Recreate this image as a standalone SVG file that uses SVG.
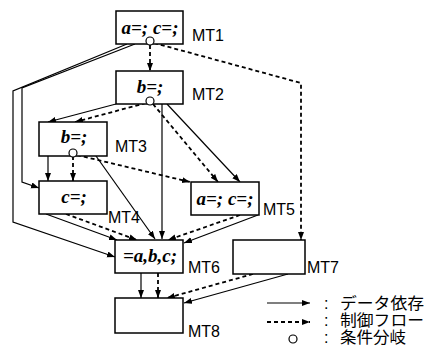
<svg xmlns="http://www.w3.org/2000/svg" width="427" height="347" viewBox="0 0 427 347">
<style>
.box{fill:#fff;stroke:#000;stroke-width:1.5}
.code{font-family:"Liberation Serif",serif;font-style:italic;font-weight:bold;font-size:19px;text-anchor:middle}
.lbl{font-family:"Liberation Sans",Arial,sans-serif;font-size:16px}
.leg{font-family:"Liberation Sans","Noto Sans CJK JP",sans-serif;font-size:16px}
.d{fill:none;stroke:#000;stroke-width:1.2;marker-end:url(#ah)}
.c{fill:none;stroke:#000;stroke-width:1.8;stroke-dasharray:4 3;marker-end:url(#ah)}
.cond{fill:#fff;stroke:#000;stroke-width:1.2}
</style>
<defs>
<marker id="ah" markerUnits="userSpaceOnUse" markerWidth="9" markerHeight="7" refX="8" refY="3" orient="auto">
<path d="M0,0 L8,3 L0,6 z" fill="#000"/>
</marker>
</defs>
<g id="connectors">
<polyline class="d" points="135,44 22,88 22,182 39,188"/>
<polyline class="d" points="127,44 13,91 13,222 115,257"/>
<line class="d" x1="116" y1="104" x2="48" y2="122"/>
<line class="d" x1="162" y1="104" x2="162" y2="239"/>
<line class="d" x1="167" y1="104" x2="240" y2="182"/>
<line class="d" x1="48" y1="156" x2="48" y2="181"/>
<line class="d" x1="96" y1="156" x2="155" y2="239"/>
<line class="d" x1="46" y1="214" x2="117" y2="240"/>
<line class="d" x1="258" y1="215" x2="184" y2="243"/>
<line class="d" x1="141" y1="273" x2="141" y2="298"/>
<line class="d" x1="288" y1="274" x2="184" y2="303"/>
<line class="c" x1="150" y1="45" x2="150" y2="71"/>
<polyline class="c" points="154,43 301,83 301,240"/>
<line class="c" x1="146" y1="103" x2="75" y2="122"/>
<line class="c" x1="153" y1="104" x2="218" y2="182"/>
<line class="c" x1="73" y1="156" x2="73" y2="181"/>
<line class="c" x1="77" y1="155" x2="190" y2="182"/>
<line class="c" x1="66" y1="214" x2="137" y2="240"/>
<line class="c" x1="240" y1="215" x2="168" y2="240"/>
<line class="c" x1="158" y1="273" x2="158" y2="298"/>
<line class="c" x1="253" y1="274" x2="167" y2="298"/>
</g>
<g id="MT1">
<rect class="box" x="116" y="11" width="67" height="33"/>
<text class="code" x="150" y="34">a=; c=;</text>
<circle class="cond" cx="150" cy="41" r="4"/>
<text class="lbl" x="192" y="41">MT1</text>
</g>
<g id="MT2">
<rect class="box" x="116" y="71" width="67" height="33"/>
<text class="code" x="150" y="93">b=;</text>
<circle class="cond" cx="150" cy="101" r="4"/>
<text class="lbl" x="192" y="100">MT2</text>
</g>
<g id="MT3">
<rect class="box" x="39" y="122" width="68" height="34"/>
<text class="code" x="74" y="143">b=;</text>
<circle class="cond" cx="73" cy="153" r="4"/>
<text class="lbl" x="115" y="152">MT3</text>
</g>
<g id="MT4">
<rect class="box" x="39" y="181" width="68" height="33"/>
<text class="code" x="74" y="203">c=;</text>
<text class="lbl" x="108" y="223">MT4</text>
</g>
<g id="MT5">
<rect class="box" x="191" y="182" width="68" height="33"/>
<text class="code" x="225" y="205">a=; c=;</text>
<text class="lbl" x="263" y="215">MT5</text>
</g>
<g id="MT6">
<rect class="box" x="115" y="240" width="68" height="33"/>
<text class="code" x="150" y="262">=a,b,c;</text>
<text class="lbl" x="188" y="273">MT6</text>
</g>
<g id="MT7">
<rect class="box" x="233" y="240" width="72" height="34"/>
<text class="lbl" x="307" y="273">MT7</text>
</g>
<g id="MT8">
<rect class="box" x="115" y="298" width="68" height="35"/>
<text class="lbl" x="188" y="337">MT8</text>
</g>
<g id="legend">
<line class="d" x1="267" y1="303" x2="310" y2="303"/>
<line class="c" x1="267" y1="322" x2="310" y2="322"/>
<circle class="cond" cx="293" cy="339" r="4"/>
<text class="leg" x="324" y="309">:</text>
<text class="leg" x="324" y="326">:</text>
<text class="leg" x="324" y="343">:</text>
<text class="leg" x="340" y="309" textLength="84" lengthAdjust="spacingAndGlyphs">データ依存</text>
<text class="leg" x="340" y="326" textLength="84" lengthAdjust="spacingAndGlyphs">制御フロー</text>
<text class="leg" x="340" y="343" textLength="66" lengthAdjust="spacingAndGlyphs">条件分岐</text>
</g>
</svg>
